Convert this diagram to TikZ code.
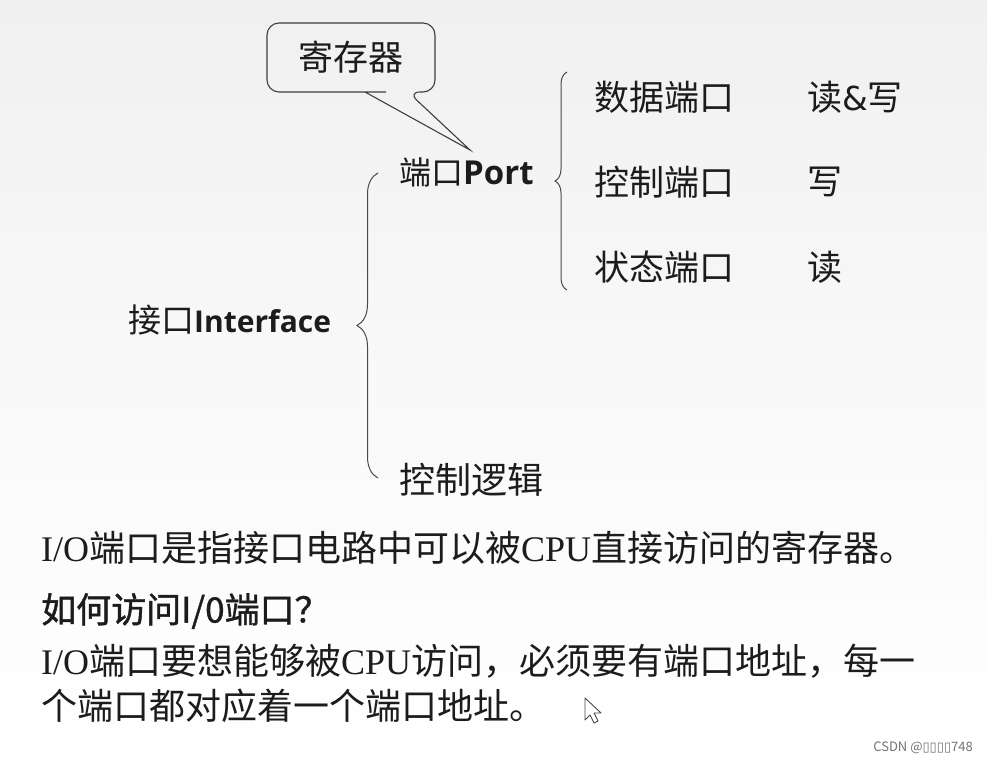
\documentclass[tikz,border=0pt]{standalone}
\usepackage{fontspec}
\setmainfont{Liberation Serif}
\newfontfamily\cjk{Noto Sans CJK SC}
\newfontfamily\cjkh{Noto Sans CJK SC}[FakeBold=1.2]
\newfontfamily\osans{Open Sans}
\newfontfamily\dvs{DejaVu Sans}
\usetikzlibrary{decorations.pathreplacing}
\definecolor{ink}{RGB}{28,28,28}
\definecolor{bgtop}{RGB}{240,240,240}
\tikzset{
  lbl/.style={anchor=west, inner sep=0pt, text=ink},
  bracestyle/.style={draw=ink!80, line width=1pt, decorate},
  bubble/.style={draw=ink!85, line width=1.1pt},
}
\begin{document}
\begin{tikzpicture}[x=1pt,y=-1pt]
\useasboundingbox (0,0) rectangle (987,762);
\shade[top color=bgtop, bottom color=white, middle color=white!60!bgtop] (0,0) rectangle (987,762);

% callout
\node[lbl, font=\cjk\fontsize{35}{40}\selectfont] (reg) at (298,57) {寄存器};
\coordinate (tip) at (470,150);
\draw[bubble, rounded corners=12pt] (386,92) -- (267,92) -- (267,23) -- (435,23) -- (435,92) -- (408,92) [sharp corners] -- (tip) -- (365,92) -- (386,92);

% tree
\node[lbl] (iface) at (128,320) {{\cjk\fontsize{33}{38}\selectfont 接口}{\osans\bfseries\fontsize{30}{34}\selectfont Interface}};
\node[lbl] (port) at (399,172) {{\cjk\fontsize{32}{36}\selectfont 端口}{\osans\bfseries\fontsize{33}{36}\selectfont Port}};
\node[lbl, font=\cjk\fontsize{36}{40}\selectfont] (logic) at (399,480) {控制逻辑};

\node[lbl, font=\cjk\fontsize{35}{40}\selectfont] (data) at (594,97) {数据端口};
\node[lbl, font=\cjk\fontsize{35}{40}\selectfont] (ctrl) at (594,182) {控制端口};
\node[lbl, font=\cjk\fontsize{35}{40}\selectfont] (stat) at (594,267) {状态端口};
\node[lbl, font=\cjk\fontsize{35}{40}\selectfont] (rw) at (807,97) {读{\dvs\fontsize{33}{38}\selectfont\&}写};
\node[lbl, font=\cjk\fontsize{35}{40}\selectfont] (w) at (807,182) {写};
\node[lbl, font=\cjk\fontsize{35}{40}\selectfont] (r) at (807,267) {读};

\coordinate (b1a) at (378,478);
\coordinate (b1b) at (378,173);
\draw[bracestyle, decoration={brace, amplitude=21pt}] (b1a) -- (b1b);
\coordinate (b2a) at (567,290);
\coordinate (b2b) at (567,72);
\draw[bracestyle, decoration={brace, amplitude=12pt}] (b2a) -- (b2b);

% text
\node[lbl, font=\fontsize{36}{40}\selectfont] (t1) at (41,548) {I/O{\cjk 端口是指接口电路中可以被}CPU{\cjk 直接访问的寄存器。}};
\node[lbl, font=\cjkh\fontsize{35}{40}\selectfont] (t2) at (41,611) {如何访问I/0端口？};
\node[lbl, font=\fontsize{36}{40}\selectfont] (t3) at (41,661) {I/O{\cjk 端口要想能够被}CPU{\cjk 访问，必须要有端口地址，每一}};
\node[lbl, font=\cjk\fontsize{36}{40}\selectfont] (t4) at (41,706) {个端口都对应着一个端口地址。};

% cursor
\draw[ink!80, fill=white, line width=0.9pt, line join=round] (585,698) -- (585,720) -- (590,715) -- (594,723) -- (598,721) -- (594,713) -- (601,713) -- cycle;

% watermark
\node[anchor=east, inner sep=0pt, text=black!55, font=\cjk\fontsize{13}{15}\selectfont] (wm) at (973,748) {CSDN @{\dvs ▯▯▯▯}748};
\end{tikzpicture}
\end{document}
